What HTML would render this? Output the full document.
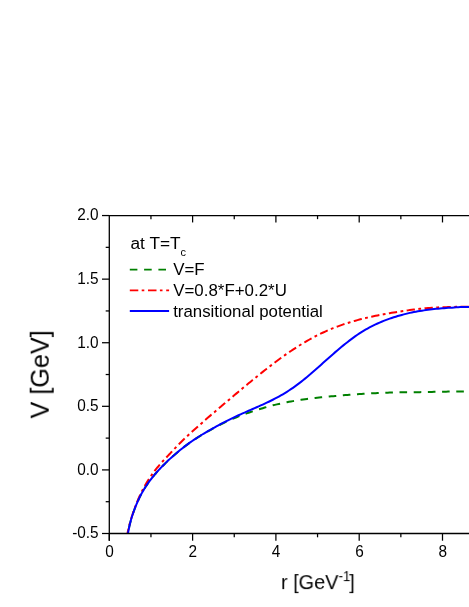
<!DOCTYPE html>
<html><head><meta charset="utf-8">
<style>
html,body{margin:0;padding:0;background:#fff;}
body{width:469px;height:607px;overflow:hidden;}
svg{display:block;will-change:transform;}
text{font-family:"Liberation Sans",sans-serif;fill:#000;}
.t{opacity:0.999;}
</style></head><body>
<svg width="469" height="607" viewBox="0 0 469 607">

<defs><clipPath id="cp"><rect x="109.50" y="215.70" width="400" height="318.00"/></clipPath></defs>
<g clip-path="url(#cp)" fill="none" stroke-width="2" stroke-linejoin="round">
<path d="M125.35 552.61 L126.14 545.89 L126.93 540.04 L127.72 534.93 L128.51 530.44 L129.30 526.55 L130.10 523.16 L130.89 520.16 L131.68 517.47 L132.47 515.00 L133.26 512.70 L134.05 510.48 L134.85 508.35 L135.64 506.32 L136.43 504.38 L137.22 502.52 L138.01 500.74 L138.80 499.03 L139.59 497.39 L140.39 495.82 L141.18 494.31 L141.97 492.88 L142.76 491.50 L143.55 490.15 L144.34 488.84 L145.14 487.56 L145.93 486.32 L146.72 485.11 L147.51 483.93 L148.30 482.79 L149.09 481.68 L149.89 480.61 L150.68 479.57 L151.47 478.56 L152.26 477.56 L153.05 476.58 L153.84 475.62 L154.63 474.68 L155.43 473.76 L156.22 472.85 L157.01 471.95 L157.80 471.07 L158.59 470.20 L159.38 469.35 L160.18 468.50 L160.97 467.67 L161.76 466.85 L162.55 466.04 L163.34 465.24 L164.13 464.44 L164.93 463.66 L165.72 462.89 L166.51 462.12 L167.30 461.36 L168.09 460.61 L168.88 459.86 L169.68 459.12 L170.47 458.39 L171.26 457.66 L172.05 456.95 L174.07 455.16 L176.08 453.41 L178.10 451.72 L180.11 450.08 L182.13 448.47 L184.14 446.91 L186.16 445.40 L188.17 443.92 L190.19 442.48 L192.20 441.08 L194.22 439.72 L196.23 438.40 L198.25 437.12 L200.26 435.87 L202.28 434.65 L204.29 433.46 L206.31 432.29 L208.32 431.15 L210.34 430.03 L212.35 428.93 L214.37 427.83 L216.38 426.74 L218.40 425.67 L220.41 424.61 L222.43 423.58 L224.44 422.58 L226.46 421.60 L228.47 420.66 L230.49 419.76 L232.50 418.89 L234.52 418.04 L236.53 417.22 L238.55 416.42 L240.56 415.64 L242.58 414.88 L244.59 414.14 L246.61 413.43 L248.62 412.72 L250.64 412.04 L252.65 411.37 L254.67 410.71 L256.68 410.07 L258.70 409.43 L260.71 408.79 L262.73 408.17 L264.74 407.56 L266.76 406.98 L268.77 406.41 L270.79 405.86 L272.80 405.34 L274.82 404.85 L276.83 404.38 L278.85 403.93 L280.86 403.49 L282.88 403.06 L284.89 402.64 L286.91 402.24 L288.92 401.85 L290.94 401.48 L292.95 401.11 L294.97 400.76 L296.98 400.42 L299.00 400.10 L301.01 399.79 L303.03 399.50 L305.04 399.23 L307.06 398.96 L309.07 398.71 L311.09 398.46 L313.10 398.23 L315.12 398.00 L317.13 397.78 L319.15 397.57 L321.16 397.36 L323.18 397.16 L325.19 396.96 L327.21 396.76 L329.22 396.56 L331.24 396.36 L333.25 396.16 L335.27 395.97 L337.28 395.79 L339.30 395.61 L341.31 395.43 L343.33 395.26 L345.34 395.09 L347.36 394.93 L349.37 394.77 L351.39 394.62 L353.40 394.47 L355.42 394.32 L357.43 394.18 L359.45 394.05 L361.46 393.92 L363.48 393.79 L365.49 393.67 L367.51 393.55 L369.52 393.44 L371.54 393.33 L373.55 393.22 L375.57 393.13 L377.58 393.03 L379.60 392.94 L381.61 392.86 L383.63 392.78 L385.64 392.70 L387.66 392.63 L389.67 392.56 L391.69 392.50 L393.70 392.45 L395.72 392.41 L397.73 392.37 L399.75 392.34 L401.76 392.31 L403.78 392.29 L405.79 392.26 L407.81 392.25 L409.82 392.23 L411.84 392.21 L413.85 392.19 L415.87 392.17 L417.88 392.15 L419.90 392.13 L421.91 392.10 L423.93 392.06 L425.94 392.02 L427.96 391.98 L429.97 391.94 L431.99 391.90 L434.00 391.86 L436.02 391.82 L438.03 391.78 L440.05 391.75 L442.06 391.71 L444.08 391.67 L446.09 391.64 L448.11 391.60 L450.12 391.57 L452.14 391.54 L454.15 391.51 L456.17 391.48 L458.18 391.45 L460.20 391.42 L462.21 391.40 L464.23 391.37 L466.24 391.35 L468.26 391.33 L470.27 391.31 L472.29 391.29" stroke="#008000" stroke-dasharray="7.60 6.59" stroke-dashoffset="3.34"/>
<path d="M125.35 544.80 L126.14 540.23 L126.93 536.03 L127.72 532.14 L128.51 528.56 L129.30 525.33 L130.10 522.39 L130.89 519.69 L131.68 517.16 L132.47 514.76 L133.26 512.42 L134.05 510.11 L134.85 507.86 L135.64 505.71 L136.43 503.65 L137.22 501.68 L138.01 499.78 L138.80 497.95 L139.59 496.19 L140.39 494.49 L141.18 492.85 L141.97 491.26 L142.76 489.72 L143.55 488.21 L144.34 486.75 L145.14 485.33 L145.93 483.94 L146.72 482.58 L147.51 481.27 L148.30 479.98 L149.09 478.73 L149.89 477.52 L150.68 476.34 L151.47 475.20 L152.26 474.09 L153.05 473.01 L153.84 471.95 L154.63 470.92 L155.43 469.92 L156.22 468.93 L157.01 467.96 L157.80 467.00 L158.59 466.06 L159.38 465.13 L160.18 464.20 L160.97 463.29 L161.76 462.40 L162.55 461.52 L163.34 460.65 L164.13 459.80 L164.93 458.95 L165.72 458.11 L166.51 457.28 L167.30 456.45 L168.09 455.61 L168.88 454.78 L169.68 453.95 L170.47 453.11 L171.26 452.27 L172.05 451.43 L174.07 449.29 L176.08 447.17 L178.10 445.08 L180.11 443.02 L182.13 441.00 L184.14 439.04 L186.16 437.15 L188.17 435.28 L190.19 433.43 L192.20 431.60 L194.22 429.78 L196.23 427.97 L198.25 426.18 L200.26 424.40 L202.28 422.63 L204.29 420.86 L206.31 419.11 L208.32 417.36 L210.34 415.62 L212.35 413.89 L214.37 412.16 L216.38 410.43 L218.40 408.71 L220.41 406.99 L222.43 405.28 L224.44 403.57 L226.46 401.86 L228.47 400.16 L230.49 398.46 L232.50 396.76 L234.52 395.07 L236.53 393.38 L238.55 391.69 L240.56 390.01 L242.58 388.33 L244.59 386.66 L246.61 384.99 L248.62 383.33 L250.64 381.67 L252.65 380.02 L254.67 378.38 L256.68 376.75 L258.70 375.12 L260.71 373.51 L262.73 371.90 L264.74 370.31 L266.76 368.73 L268.77 367.16 L270.79 365.60 L272.80 364.06 L274.82 362.54 L276.83 361.03 L278.85 359.54 L280.86 358.06 L282.88 356.61 L284.89 355.17 L286.91 353.76 L288.92 352.37 L290.94 350.99 L292.95 349.65 L294.97 348.32 L296.98 347.02 L299.00 345.74 L301.01 344.49 L303.03 343.27 L305.04 342.07 L307.06 340.89 L309.07 339.75 L311.09 338.63 L313.10 337.54 L315.12 336.47 L317.13 335.44 L319.15 334.43 L321.16 333.45 L323.18 332.50 L325.19 331.57 L327.21 330.67 L329.22 329.80 L331.24 328.95 L333.25 328.13 L335.27 327.34 L337.28 326.57 L339.30 325.82 L341.31 325.10 L343.33 324.40 L345.34 323.73 L347.36 323.08 L349.37 322.45 L351.39 321.83 L353.40 321.24 L355.42 320.67 L357.43 320.12 L359.45 319.58 L361.46 319.07 L363.48 318.56 L365.49 318.08 L367.51 317.60 L369.52 317.14 L371.54 316.70 L373.55 316.27 L375.57 315.85 L377.58 315.44 L379.60 315.04 L381.61 314.65 L383.63 314.27 L385.64 313.91 L387.66 313.55 L389.67 313.19 L391.69 312.85 L393.70 312.52 L395.72 312.19 L397.73 311.87 L399.75 311.56 L401.76 311.25 L403.78 310.95 L405.79 310.66 L407.81 310.38 L409.82 310.10 L411.84 309.83 L413.85 309.57 L415.87 309.31 L417.88 309.07 L419.90 308.83 L421.91 308.60 L423.93 308.40 L425.94 308.21 L427.96 308.04 L429.97 307.88 L431.99 307.73 L434.00 307.59 L436.02 307.47 L438.03 307.38 L440.05 307.31 L442.06 307.25 L444.08 307.21 L446.09 307.17 L448.11 307.12 L450.12 307.07 L452.14 307.00 L454.15 306.92 L456.17 306.84 L458.18 306.77 L460.20 306.71 L462.21 306.67 L464.23 306.65 L466.24 306.65 L468.26 306.70 L470.27 306.78 L472.29 306.88" stroke="#ff0000" stroke-dasharray="8.30 3.45 2.80 3.45" stroke-dashoffset="9.87"/>
<path d="M125.35 552.61 L126.14 545.88 L126.93 540.04 L127.72 534.93 L128.51 530.44 L129.30 526.55 L130.10 523.16 L130.89 520.16 L131.68 517.47 L132.47 515.00 L133.26 512.70 L134.05 510.48 L134.85 508.35 L135.64 506.32 L136.43 504.38 L137.22 502.52 L138.01 500.74 L138.80 499.03 L139.59 497.39 L140.39 495.82 L141.18 494.31 L141.97 492.88 L142.76 491.50 L143.55 490.15 L144.34 488.84 L145.14 487.56 L145.93 486.32 L146.72 485.11 L147.51 483.93 L148.30 482.79 L149.09 481.68 L149.89 480.61 L150.68 479.57 L151.47 478.55 L152.26 477.56 L153.05 476.58 L153.84 475.62 L154.63 474.68 L155.43 473.75 L156.22 472.84 L157.01 471.94 L157.80 471.06 L158.59 470.19 L159.38 469.34 L160.18 468.49 L160.97 467.66 L161.76 466.84 L162.55 466.03 L163.34 465.22 L164.13 464.43 L164.93 463.65 L165.72 462.87 L166.51 462.11 L167.30 461.35 L168.09 460.59 L168.88 459.85 L169.68 459.11 L170.47 458.37 L171.26 457.65 L172.05 456.93 L174.07 455.13 L176.08 453.39 L178.10 451.69 L180.11 450.04 L182.13 448.44 L184.14 446.87 L186.16 445.35 L188.17 443.87 L190.19 442.42 L192.20 441.01 L194.22 439.65 L196.23 438.32 L198.25 437.02 L200.26 435.76 L202.28 434.52 L204.29 433.32 L206.31 432.13 L208.32 430.97 L210.34 429.83 L212.35 428.70 L214.37 427.57 L216.38 426.44 L218.40 425.33 L220.41 424.24 L222.43 423.16 L224.44 422.10 L226.46 421.06 L228.47 420.05 L230.49 419.07 L232.50 418.11 L234.52 417.16 L236.53 416.21 L238.55 415.28 L240.56 414.36 L242.58 413.44 L244.59 412.54 L246.61 411.64 L248.62 410.75 L250.64 409.86 L252.65 408.98 L254.67 408.11 L256.68 407.23 L258.70 406.35 L260.71 405.46 L262.73 404.56 L264.74 403.64 L266.76 402.70 L268.77 401.75 L270.79 400.77 L272.80 399.76 L274.82 398.73 L276.83 397.66 L278.85 396.57 L280.86 395.44 L282.88 394.27 L284.89 393.06 L286.91 391.81 L288.92 390.52 L290.94 389.18 L292.95 387.81 L294.97 386.38 L296.98 384.92 L299.00 383.41 L301.01 381.86 L303.03 380.27 L305.04 378.64 L307.06 376.98 L309.07 375.29 L311.09 373.57 L313.10 371.83 L315.12 370.06 L317.13 368.28 L319.15 366.48 L321.16 364.67 L323.18 362.86 L325.19 361.05 L327.21 359.24 L329.22 357.44 L331.24 355.65 L333.25 353.88 L335.27 352.13 L337.28 350.40 L339.30 348.70 L341.31 347.03 L343.33 345.38 L345.34 343.76 L347.36 342.17 L349.37 340.61 L351.39 339.09 L353.40 337.62 L355.42 336.18 L357.43 334.79 L359.45 333.44 L361.46 332.14 L363.48 330.89 L365.49 329.70 L367.51 328.55 L369.52 327.45 L371.54 326.41 L373.55 325.40 L375.57 324.43 L377.58 323.51 L379.60 322.62 L381.61 321.76 L383.63 320.94 L385.64 320.16 L387.66 319.40 L389.67 318.68 L391.69 317.99 L393.70 317.32 L395.72 316.69 L397.73 316.07 L399.75 315.49 L401.76 314.93 L403.78 314.39 L405.79 313.87 L407.81 313.37 L409.82 312.90 L411.84 312.45 L413.85 312.04 L415.87 311.66 L417.88 311.31 L419.90 310.98 L421.91 310.67 L423.93 310.38 L425.94 310.10 L427.96 309.83 L429.97 309.57 L431.99 309.32 L434.00 309.08 L436.02 308.86 L438.03 308.66 L440.05 308.48 L442.06 308.31 L444.08 308.15 L446.09 308.00 L448.11 307.87 L450.12 307.75 L452.14 307.63 L454.15 307.49 L456.17 307.35 L458.18 307.22 L460.20 307.10 L462.21 307.00 L464.23 306.94 L466.24 306.92 L468.26 306.94 L470.27 307.02 L472.29 307.13" stroke="#0000ff"/>
</g>
<g stroke="#000" stroke-width="1.3" fill="none">
<line x1="109.30" y1="214.90" x2="109.30" y2="540.70"/>
<line x1="109.30" y1="215.55" x2="470" y2="215.55"/>
<line x1="109.30" y1="533.50" x2="470" y2="533.50"/>
</g>
<g stroke="#000" stroke-width="1.25" fill="none">
<line x1="102" y1="215.55" x2="109.30" y2="215.55"/><line x1="102" y1="279.14" x2="109.30" y2="279.14"/><line x1="102" y1="342.73" x2="109.30" y2="342.73"/><line x1="102" y1="406.32" x2="109.30" y2="406.32"/><line x1="102" y1="469.91" x2="109.30" y2="469.91"/><line x1="102" y1="533.50" x2="109.30" y2="533.50"/><line x1="105.7" y1="247.34" x2="109.30" y2="247.34"/><line x1="105.7" y1="310.94" x2="109.30" y2="310.94"/><line x1="105.7" y1="374.52" x2="109.30" y2="374.52"/><line x1="105.7" y1="438.12" x2="109.30" y2="438.12"/><line x1="105.7" y1="501.70" x2="109.30" y2="501.70"/><line x1="109.30" y1="533.50" x2="109.30" y2="540.70"/><line x1="150.95" y1="533.50" x2="150.95" y2="537.30"/><line x1="150.95" y1="215.55" x2="150.95" y2="219.15"/><line x1="192.60" y1="533.50" x2="192.60" y2="540.70"/><line x1="192.60" y1="215.55" x2="192.60" y2="222.45"/><line x1="234.25" y1="533.50" x2="234.25" y2="537.30"/><line x1="234.25" y1="215.55" x2="234.25" y2="219.15"/><line x1="275.90" y1="533.50" x2="275.90" y2="540.70"/><line x1="275.90" y1="215.55" x2="275.90" y2="222.45"/><line x1="317.55" y1="533.50" x2="317.55" y2="537.30"/><line x1="317.55" y1="215.55" x2="317.55" y2="219.15"/><line x1="359.20" y1="533.50" x2="359.20" y2="540.70"/><line x1="359.20" y1="215.55" x2="359.20" y2="222.45"/><line x1="400.85" y1="533.50" x2="400.85" y2="537.30"/><line x1="400.85" y1="215.55" x2="400.85" y2="219.15"/><line x1="442.50" y1="533.50" x2="442.50" y2="540.70"/><line x1="442.50" y1="215.55" x2="442.50" y2="222.45"/>
</g>
<g class="t" font-size="16.0px">
<text transform="translate(98.6 220.35) scale(0.96 1)" text-anchor="end">2.0</text><text transform="translate(98.6 283.94) scale(0.96 1)" text-anchor="end">1.5</text><text transform="translate(98.6 347.53) scale(0.96 1)" text-anchor="end">1.0</text><text transform="translate(98.6 411.12) scale(0.96 1)" text-anchor="end">0.5</text><text transform="translate(98.6 474.71) scale(0.96 1)" text-anchor="end">0.0</text><text transform="translate(98.6 538.30) scale(0.96 1)" text-anchor="end">-0.5</text>
<text transform="translate(109.50 557.0) scale(0.96 1)" text-anchor="middle">0</text><text transform="translate(192.80 557.0) scale(0.96 1)" text-anchor="middle">2</text><text transform="translate(276.10 557.0) scale(0.96 1)" text-anchor="middle">4</text><text transform="translate(359.40 557.0) scale(0.96 1)" text-anchor="middle">6</text><text transform="translate(442.70 557.0) scale(0.96 1)" text-anchor="middle">8</text>
</g>
<g class="t" font-size="17px">
<text x="130.5" y="248.9" font-size="17.3px">at T=T<tspan font-size="11px" dy="7.1">c</tspan></text>
<text transform="translate(173.2 274.8) scale(0.993 1)">V=F</text>
<text transform="translate(173.2 296.0) scale(0.995 1)">V=0.8*F+0.2*U</text>
<text transform="translate(173.2 317.4) scale(0.990 1)">transitional potential</text>
</g>
<g fill="none" stroke-width="1.8">
<line x1="129.8" y1="269.6" x2="166" y2="269.6" stroke="#008000" stroke-dasharray="7.6 6.7"/>
<line x1="129.8" y1="290.3" x2="169.1" y2="290.3" stroke="#ff0000" stroke-dasharray="8.5 3.4 2.6 3.7"/>
<line x1="129.8" y1="311.0" x2="169.1" y2="311.0" stroke="#0000ff"/>
</g>
<g class="t">
<text font-size="26.4px" transform="translate(48.7 374.3) rotate(-90) scale(0.955 1)" text-anchor="middle">V [GeV]</text>
<text font-size="20.4px" transform="translate(281 589.1) scale(0.975 1)">r [GeV<tspan font-size="13.8px" dy="-8.4">-1</tspan><tspan dy="8.4" dx="-1.1">]</tspan></text>
</g>
</svg>
</body></html>
